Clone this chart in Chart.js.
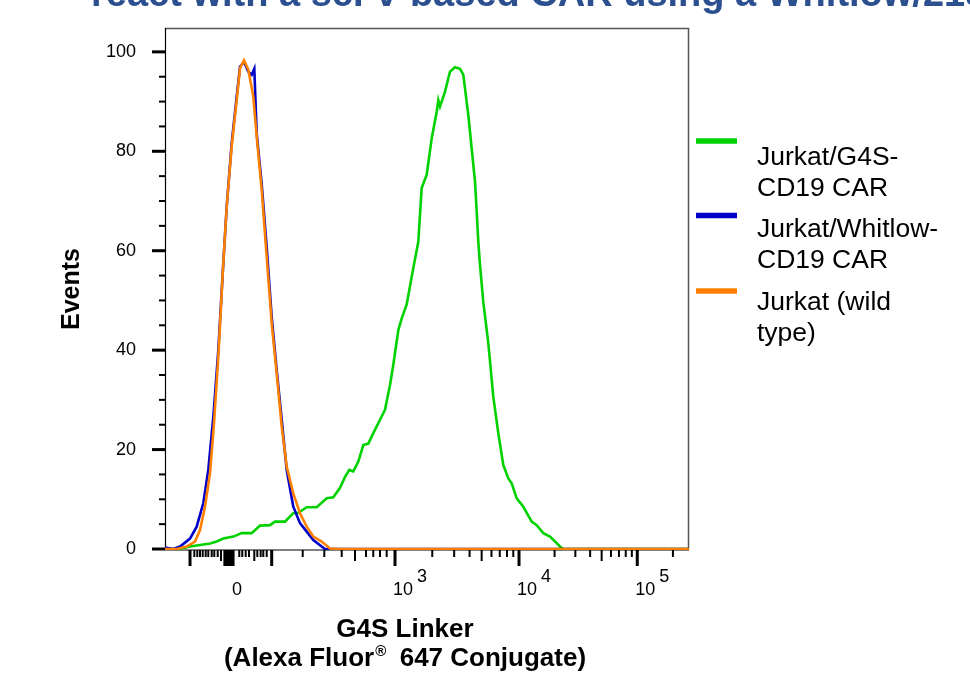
<!DOCTYPE html>
<html><head><meta charset="utf-8">
<script src="https://cdn.jsdelivr.net/npm/chart.js@4.4.1/dist/chart.umd.min.js"></script>
<style>html,body{margin:0;padding:0;background:#fff;overflow:hidden}#wrap{position:absolute;left:0;top:0;width:970px;height:673px}</style>
</head><body><div id="wrap"><canvas id="c" width="970" height="673"></canvas></div>
<script>
// ---- data (x in display channels 0..1024 of the biexponential axis) ----
const seriesNames = [['Jurkat/G4S-','CD19 CAR'],['Jurkat/Whitlow-','CD19 CAR'],['Jurkat (wild','type)']];
const seriesColors = ['#00d200','#0000c8','#ff8000'];
const greenX = [0,29.3,48.9,68.4,87.9,101.0,113.9,133.5,149.9,169.4,185.6,205.2,215.0,234.5,250.7,260.5,276.9,296.4,316.0,328.9,342.0,351.8,360.2,368.0,377.8,387.5,397.3,407.1,420.2,429.9,439.7,446.1,455.9,462.6,472.3,485.2,495.0,501.6,511.4,521.2,531.0,534.1,537.4,547.2,556.9,566.7,576.5,582.9,586.3,592.7,599.3,605.8,609.1,612.3,615.6,622.0,631.8,641.6,651.3,661.1,670.9,677.5,687.3,700.2,716.6,726.4,739.3,752.4,771.9,778.4,1024];
const greenY = [0,0,0.5,0.8,1.1,1.5,2.1,2.5,3.2,3.2,4.7,4.8,5.5,5.5,7.2,7.3,8.4,8.4,10.2,10.4,12.3,14.5,15.9,15.6,17.6,20.9,21.2,23.3,26.0,28.0,33.0,37.0,44.0,46.4,49.2,56.5,61.8,72.6,75.3,82.6,88.0,90.3,89.0,92.0,96.0,96.9,96.6,95.4,92.6,87.3,80.6,73.9,67.9,61.8,57.1,49.7,41.4,30.6,23.3,16.9,14.2,13.2,10.2,8.5,5.5,4.8,3.2,2.5,0.5,0,0];
const blueX = [0,16.2,29.3,48.9,61.9,74.8,84.6,94.4,104.2,112.8,120.6,130.3,140.1,146.6,154.4,162.8,169.4,174.5,179.2,189.0,198.7,208.5,218.3,228.1,237.8,250.7,263.8,276.9,289.8,306.2,312.7,1024];
const blueY = [0.3,0,0.5,2.1,4.5,9.2,15.9,26.6,40.0,55.5,68.9,81.6,91.0,97.0,98.0,96.0,95.4,96.6,83.6,73.4,60.8,46.7,36.0,26.0,15.9,8.5,5.2,3.5,1.8,0.5,0,0];
const orangeX = [0,22.9,42.4,58.6,68.4,78.2,87.9,95.8,104.2,112.8,120.6,130.3,140.1,146.6,154.4,162.8,172.6,179.2,189.0,198.7,208.5,218.3,228.1,237.8,250.7,263.8,276.9,289.8,306.2,322.4,342.0,1024];
const orangeY = [0,0,0.5,1.5,3.8,8.5,15.2,25.3,38.7,55.5,68.9,81.0,90.3,96.7,98.3,96.4,91.0,83.0,72.2,58.8,45.4,35.3,24.6,16.6,11.2,7.2,4.5,2.5,1.5,0.1,0,0];

// ---- axis ticks ----
const yMajorTicks = [0,20,40,60,80,100];
const yMinorTicks = [5,10,15,25,30,35,45,50,55,65,70,75,85,90,95];
const xMajorTicks = [48.9,117,119,121,123,125,127,129,131,133,208.5,449.5,691.8,922.9];
const xMediumTicks = [109.4,174.5,371.3,618.8,853.3];
const xMinorTicks = [57.3,63.1,68.4,73.7,79.5,84.6,91.3,96.3,103.0,145.2,151.0,157.7,164.1,180.4,187.0,192.1,198.7,269.1,311.3,345.3,392.8,407.0,420.1,433.2,522.3,565.1,595.2,638.0,654.2,668.3,680.6,761.3,801.9,830.8,871.5,887.1,900.4,912.3,992.6];
const xLabelTicks = [125,449.5,691.8,922.9];
const xLabelBase = ['0','10','10','10'];
const xLabelExp = ['','3','4','5'];

const titleText = 'react with a scFv-based CAR using a Whitlow/218 linker';
const FONT = '"Liberation Sans", Arial, Helvetica, sans-serif';
Chart.defaults.font.family = FONT;
Chart.defaults.color = '#000';

function mk(xs, ys){ return xs.map((x,i)=>({x:x, y:ys[i]})); }

const decor = {
  id:'decor',
  beforeDatasetsDraw(chart){
    const ctx = chart.ctx, a = chart.chartArea, xs = chart.scales.x, ys = chart.scales.y;
    ctx.save();
    // frame
    ctx.lineWidth = 1.5; ctx.strokeStyle = '#555';
    ctx.beginPath(); ctx.moveTo(a.left, a.top+0.5); ctx.lineTo(a.right-0.5, a.top+0.5); ctx.lineTo(a.right-0.5, a.bottom); ctx.stroke();
    ctx.lineWidth = 1.2; ctx.strokeStyle = '#000';
    ctx.beginPath(); ctx.moveTo(a.left+0.5, a.top); ctx.lineTo(a.left+0.5, a.bottom); ctx.lineTo(a.right, a.bottom); ctx.stroke();
    // y ticks
    ctx.strokeStyle = '#000';
    yMajorTicks.forEach(v=>{ const p = ys.getPixelForValue(v); ctx.lineWidth=3; ctx.beginPath(); ctx.moveTo(a.left-13,p); ctx.lineTo(a.left,p); ctx.stroke(); });
    yMinorTicks.forEach(v=>{ const p = ys.getPixelForValue(v); ctx.lineWidth=2; ctx.beginPath(); ctx.moveTo(a.left-6,p); ctx.lineTo(a.left,p); ctx.stroke(); });
    // x ticks
    const xt = (arr, len, w) => arr.forEach(v=>{ const p = xs.getPixelForValue(v); ctx.lineWidth=w; ctx.beginPath(); ctx.moveTo(p,a.bottom); ctx.lineTo(p,a.bottom+len); ctx.stroke(); });
    xt(xMajorTicks, 16, 3); xt(xMediumTicks, 11, 2); xt(xMinorTicks, 7, 2);
    ctx.restore();
  },
  afterDraw(chart){
    const ctx = chart.ctx, a = chart.chartArea, xs = chart.scales.x;
    ctx.save();
    ctx.fillStyle = '#000'; ctx.textBaseline = 'alphabetic';
    // x tick labels
    ctx.font = '18px ' + FONT;
    xLabelTicks.forEach((v,i)=>{
      const p = xs.getPixelForValue(v) + 8;
      ctx.textAlign = 'center';
      ctx.fillText(xLabelBase[i], p, 595);
      if (xLabelExp[i]) { ctx.textAlign = 'left'; ctx.fillText(xLabelExp[i], p + 14, 582); }
    });
    // x title
    ctx.font = 'bold 26px ' + FONT; ctx.textAlign = 'center';
    const cx = 405;
    ctx.fillText('G4S Linker', cx, 637);
    const p1 = '(Alexa Fluor', p2 = '\u00AE', p3 = '  647 Conjugate)';
    const w1 = ctx.measureText(p1).width, w3 = ctx.measureText(p3).width;
    ctx.font = 'bold 15px ' + FONT; const w2 = ctx.measureText(p2).width;
    let x0 = cx - (w1+w2+w3)/2;
    ctx.textAlign = 'left';
    ctx.font = 'bold 26px ' + FONT; ctx.fillText(p1, x0, 666);
    ctx.font = 'bold 15px ' + FONT; ctx.fillText(p2, x0+w1+1, 656);
    ctx.font = 'bold 26px ' + FONT; ctx.fillText(p3, x0+w1+w2, 666);
    // legend
    const swY = [141, 215.5, 291], txY = [164.5, 237, 309.5];
    chart.data.datasets.forEach((ds,i)=>{
      ctx.strokeStyle = ds.borderColor; ctx.lineWidth = 5.5;
      ctx.beginPath(); ctx.moveTo(696, swY[i]); ctx.lineTo(737, swY[i]); ctx.stroke();
      ctx.font = '26.5px ' + FONT; ctx.fillStyle = '#000'; ctx.textAlign='left';
      ds.label.forEach((t,j)=> ctx.fillText(t, 757, txY[i] + j*31));
    });
    // cut-off title
    ctx.font = 'bold 38px ' + FONT; ctx.fillStyle = '#2b4f8f'; ctx.textAlign = 'left';
    ctx.fillText(titleText, 91, 6);
    ctx.restore();
  }
};

new Chart(document.getElementById('c'), {
  type: 'line',
  data: { datasets: [
    { label: seriesNames[0], data: mk(greenX, greenY), borderColor: seriesColors[0], order: 2 },
    { label: seriesNames[1], data: mk(blueX, blueY), borderColor: seriesColors[1], order: 1 },
    { label: seriesNames[2], data: mk(orangeX, orangeY), borderColor: seriesColors[2], order: 0 }
  ]},
  options: {
    responsive: false, animation: false, devicePixelRatio: 1,
    layout: { autoPadding: false, padding: { top: 28, right: 281, left: 0, bottom: 0 } },
    elements: { point: { radius: 0 }, line: { borderWidth: 2.6, tension: 0, fill: false } },
    plugins: { legend: { display: false }, tooltip: { enabled: false }, title: { display: false } },
    scales: {
      x: { type: 'linear', min: 0, max: 1024, ticks: { display: false }, grid: { display: false, drawTicks: false }, border: { display: false },
           afterFit: s => { s.height = 123; s.paddingLeft = 0; s.paddingRight = 0; } },
      y: { type: 'linear', min: -0.2, max: 104.8,
           afterBuildTicks: s => { s.ticks = yMajorTicks.map(v => ({ value: v })); },
           ticks: { font: { size: 18 }, color: '#000', padding: 29 },
           grid: { display: false, drawTicks: false }, border: { display: false },
           title: { display: true, text: 'Events', font: { size: 25, weight: 'bold' }, color: '#000', padding: { top: 57, bottom: 0 } },
           afterFit: s => { s.width = 165; s.paddingTop = 0; s.paddingBottom = 0; } }
    }
  },
  plugins: [decor]
});
</script></body></html>
